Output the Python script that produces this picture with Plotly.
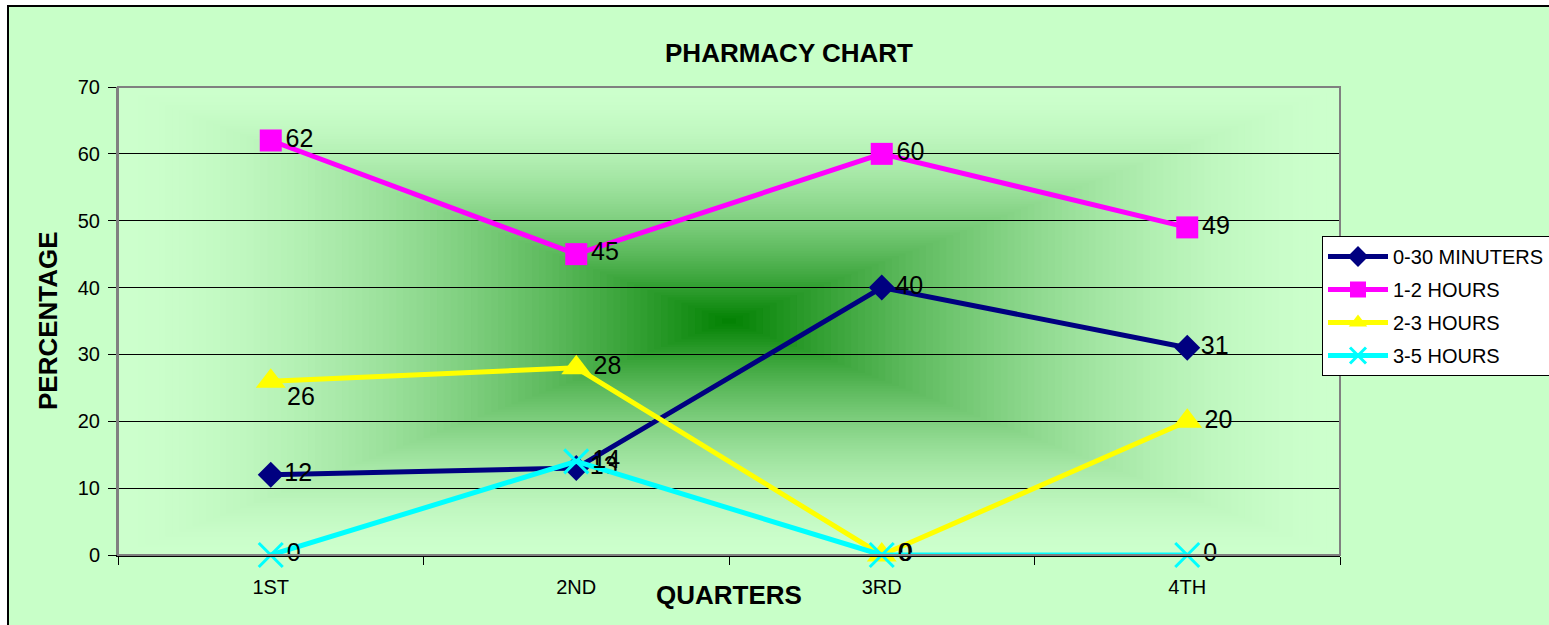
import plotly.graph_objects as go

# Data
quarters = ['1ST', '2ND', '3RD', '4TH']
series_names = ['0-30 MINUTERS', '1-2 HOURS', '2-3 HOURS', '3-5 HOURS']
minutes_0_30 = [12, 13, 40, 31]
hours_1_2 = [62, 45, 60, 49]
hours_2_3 = [26, 28, 0, 20]
hours_3_5 = [0, 14, 0, 0]

# Styles
line_colors = ['#000080', '#ff00ff', '#ffff00', '#00ffff']
symbols = ['diamond', 'square', 'triangle-up', 'x-thin']
marker_sizes = [20, 22, 26, 24]
edge_rgb = (204, 255, 204)
center_rgb = (0, 128, 0)
label_font = dict(size=25, color='black', family='Arial')

W, H = 1549, 625
L, R, T, B = 118, 209, 87, 70
pw, ph = W - L - R, H - T - B


def px_x(px):
    ''' Pixel x to paper x. '''
    return (px - L) / pw


def px_y(py):
    ''' Pixel y to paper y. '''
    return (H - B - py) / ph


fig = go.Figure()

all_values = [minutes_0_30, hours_1_2, hours_2_3, hours_3_5]
annotations = []
for i, (name, vals) in enumerate(zip(series_names, all_values)):
    labels = [str(v) for v in vals]
    if name == '2-3 HOURS':
        # this label sits a little below its point
        annotations.append(dict(
            x=quarters[0], y=vals[0], xref='x', yref='y', text=labels[0],
            showarrow=False, xanchor='left', yanchor='middle',
            xshift=14, yshift=-15, font=label_font))
        labels[0] = ''
    fig.add_trace(go.Scatter(
        x=quarters, y=vals, name=name, legendgroup=name,
        mode='lines+markers+text',
        text=labels,
        textposition='middle right',
        textfont=label_font,
        line=dict(color=line_colors[i], width=5),
        marker=dict(symbol=symbols[i], size=marker_sizes[i],
                    color=line_colors[i],
                    line=dict(color=line_colors[i],
                              width=3 if symbols[i] == 'x-thin' else 0)),
        cliponaxis=False,
    ))

# rectangular "from center" gradient in the plot area
shapes = []
n_steps = 90
for k in range(n_steps):
    t = k / n_steps
    f = t ** 1.7
    half = 0.5 * (1 - t)
    col = tuple(round(e + (c - e) * f) for e, c in zip(edge_rgb, center_rgb))
    shapes.append(dict(
        type='rect', xref='x domain', yref='y domain',
        x0=0.5 - half, x1=0.5 + half, y0=0.5 - half, y1=0.5 + half,
        fillcolor='rgb(%d,%d,%d)' % col, line=dict(width=0), layer='below'))

# outer chart area with black border
shapes.insert(0, dict(
    type='rect', xref='paper', yref='paper',
    x0=px_x(8), x1=px_x(1600), y0=px_y(680), y1=px_y(6),
    fillcolor='#c8ffc8', line=dict(color='black', width=2), layer='below'))

# plot area border in grey
shapes.append(dict(
    type='rect', xref='x domain', yref='y domain',
    x0=0, x1=1, y0=0, y1=1,
    line=dict(color='#808080', width=2), layer='above'))

annotations += [
    dict(text='<b>QUARTERS</b>', xref='paper', yref='paper',
         x=0.5, y=px_y(595), xanchor='center', yanchor='middle',
         showarrow=False, font=dict(size=26)),
    dict(text='<b>PERCENTAGE</b>', xref='paper', yref='paper',
         x=px_x(48), y=0.5, xanchor='center', yanchor='middle',
         textangle=-90, showarrow=False, font=dict(size=26)),
]

fig.update_layout(
    width=W, height=H,
    margin=dict(l=L, r=R, t=T, b=B, autoexpand=False),
    paper_bgcolor='white',
    plot_bgcolor='rgb(204,255,204)',
    font=dict(family='Arial', color='black'),
    shapes=shapes,
    title=dict(text='<b>PHARMACY CHART</b>', font=dict(size=26),
               xref='container', yref='container',
               x=789 / W, y=1 - 53 / H,
               xanchor='center', yanchor='middle'),
    showlegend=True,
    legend=dict(x=px_x(1322), y=px_y(236), xanchor='left', yanchor='top',
                bgcolor='white', bordercolor='black', borderwidth=1,
                font=dict(size=20), itemwidth=60, tracegroupgap=4,
                traceorder='grouped'),
    annotations=annotations,
)

fig.update_xaxes(type='category', range=[-0.5, 3.5], tickson='boundaries',
                 ticks='outside', ticklen=8, tickcolor='black',
                 showgrid=False, showline=True, linecolor='black',
                 linewidth=2, tickfont=dict(size=20), zeroline=False,
                 ticklabelstandoff=13)
fig.update_yaxes(range=[0, 70], dtick=10, ticks='outside', ticklen=8,
                 tickcolor='black', showgrid=True, gridcolor='black',
                 gridwidth=1, showline=True, linecolor='#808080',
                 linewidth=2, tickfont=dict(size=20), zeroline=False,
                 ticklabelstandoff=4)

# drop the default 8px body margin so the figure fills the window
fig.write_html('out.html',
               config={'displayModeBar': False},
               post_script="document.body.style.margin='0';"
                           "document.body.style.overflow='hidden';")
